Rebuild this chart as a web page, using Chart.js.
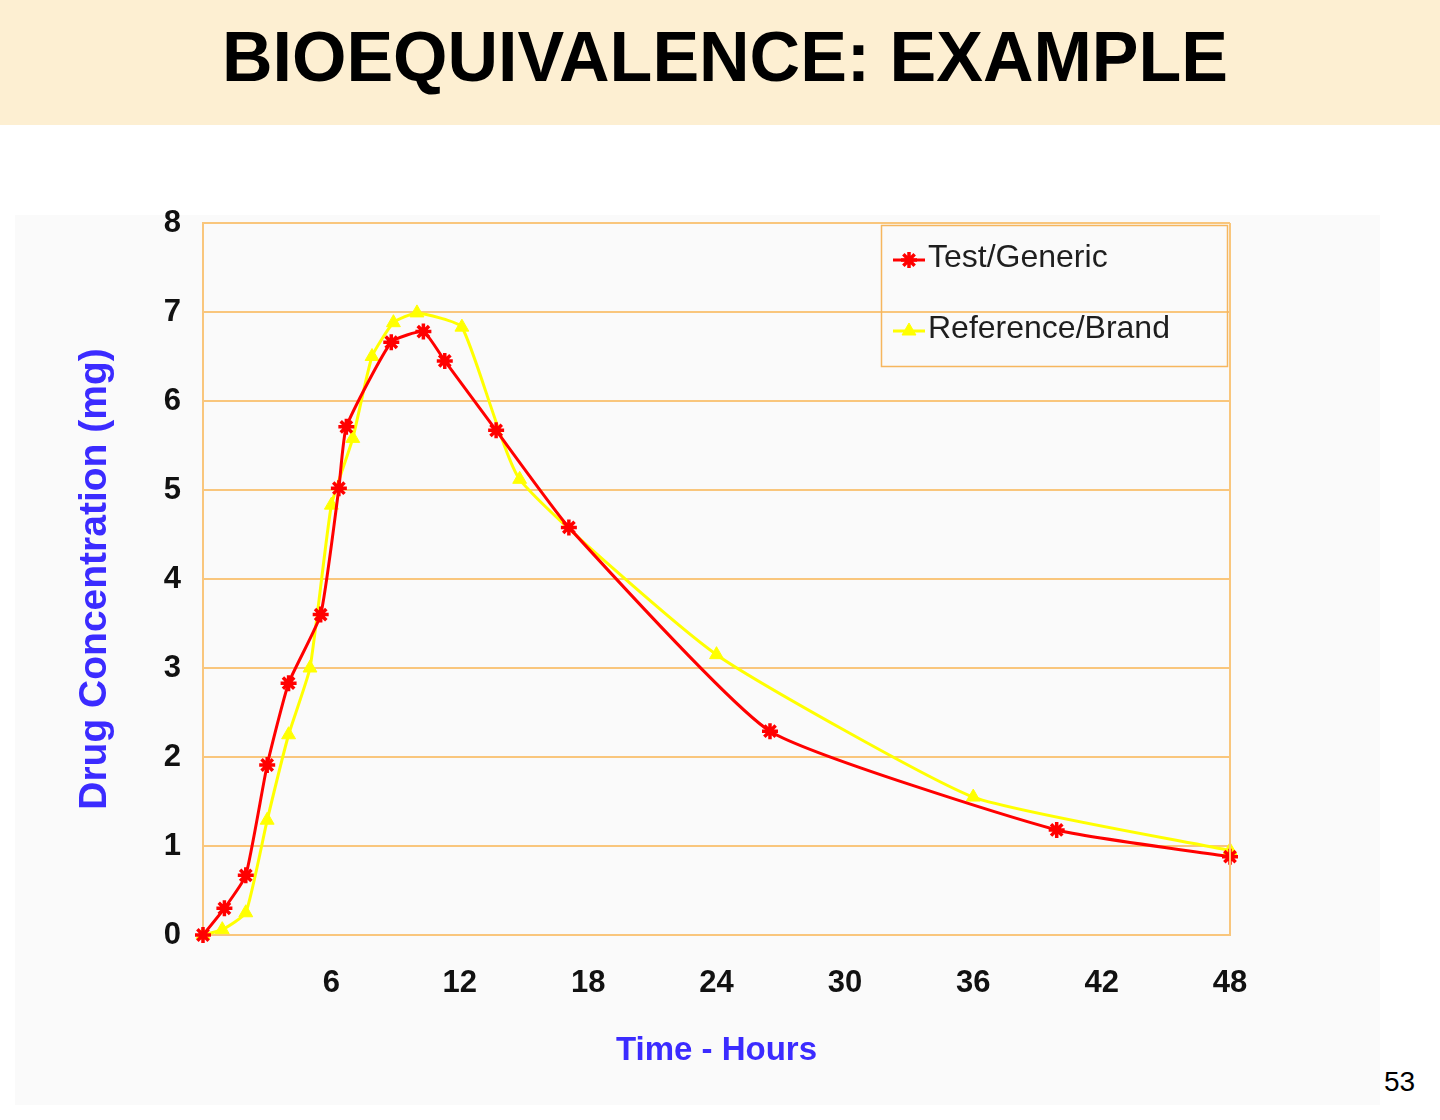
<!DOCTYPE html>
<html>
<head>
<meta charset="utf-8">
<script src="https://cdn.jsdelivr.net/npm/chart.js@4.4.1/dist/chart.umd.min.js"></script>
<style>
  html, body { margin: 0; padding: 0; background: #ffffff; }
  body { width: 1440px; height: 1120px; position: relative; overflow: hidden; font-family: "Liberation Sans", Arial, sans-serif; }
  #header { position: absolute; left: 0; top: 0; width: 1440px; height: 125px; background: #fdefd2; }
  #title { position: absolute; left: 0; width: 1440px; top: 17px; text-align: center; font-weight: bold; font-size: 70px; color: #000; letter-spacing: 0; padding-left: 10px; box-sizing: border-box; }
  #chartBg { position: absolute; left: 15px; top: 215px; width: 1365px; height: 890px; background: #fafafa; }
  #chartBox { position: absolute; left: 15px; top: 195px; width: 1365px; height: 910px; }
  #pageNum { position: absolute; left: 1384px; top: 1066px; font-size: 28px; color: #000; }
</style>
</head>
<body>
<div id="header"><div id="title">BIOEQUIVALENCE: EXAMPLE</div></div>
<div id="chartBg"></div>
<div id="chartBox"><canvas id="c" width="1365" height="910"></canvas></div>
<div id="pageNum">53</div>
<script>
// ---- data ----
const seriesNames = ["Test/Generic", "Reference/Brand"];
const testHours = [0, 1, 2, 3, 4, 5.5, 6.35, 6.7, 8.8, 10.3, 11.3, 13.7, 17.1, 26.5, 39.9, 48];
const testConc  = [0, 0.30, 0.67, 1.91, 2.83, 3.60, 5.02, 5.71, 6.66, 6.78, 6.45, 5.67, 4.58, 2.29, 1.18, 0.88];
const refHours  = [0, 0.9, 2, 3, 4, 5, 6, 7, 7.9, 8.9, 10, 12.1, 14.8, 24, 36, 48];
const refConc   = [0, 0.06, 0.25, 1.29, 2.25, 3.00, 4.83, 5.58, 6.50, 6.88, 6.99, 6.83, 5.12, 3.15, 1.55, 0.95];
const xTicks = [6, 12, 18, 24, 30, 36, 42, 48];
const yTicks = [0, 1, 2, 3, 4, 5, 6, 7, 8];

const FONT = '"Liberation Sans", Arial, sans-serif';
const GRID = '#f9c67c';

function pts(xs, ys) { return xs.map((x, i) => ({ x: x, y: ys[i] })); }

const insideLegend = {
  id: 'insideLegend',
  afterDatasetsDraw(chart) {
    const ctx = chart.ctx;
    const ca = chart.chartArea;
    const w = 346, h = 141;
    const left = ca.right - 349, top = ca.top + 2;
    ctx.save();
    ctx.strokeStyle = '#f6b65e';
    ctx.lineWidth = 1.5;
    ctx.strokeRect(left + 0.5, top + 0.5, w, h);
    chart.data.datasets.forEach((ds, i) => {
      const cy = top + 35 + i * 71;
      const lx = left + 12;
      ctx.strokeStyle = ds.borderColor;
      ctx.lineWidth = 3;
      ctx.beginPath();
      ctx.moveTo(lx, cy);
      ctx.lineTo(lx + 32, cy);
      ctx.stroke();
      ctx.fillStyle = ds.pointBackgroundColor;
      ctx.strokeStyle = ds.pointBorderColor;
      ctx.lineWidth = ds.pointBorderWidth;
      Chart.helpers.drawPoint(ctx, {
        pointStyle: ds.pointStyle, radius: ds.pointRadius, borderWidth: ds.pointBorderWidth, rotation: 0
      }, lx + 16, cy);
      ctx.fillStyle = '#1e1e1e';
      ctx.font = '32px ' + FONT;
      ctx.textBaseline = 'middle';
      ctx.textAlign = 'left';
      ctx.fillText(ds.label, lx + 35, cy - 2);
    });
    ctx.restore();
  }
};

new Chart(document.getElementById('c'), {
  type: 'line',
  data: {
    datasets: [
      {
        label: seriesNames[0],
        data: pts(testHours, testConc),
        borderColor: '#ff0000',
        backgroundColor: '#ff0000',
        borderWidth: 3,
        pointStyle: 'star',
        pointRadius: 8,
        pointBorderWidth: 3.5,
        pointBackgroundColor: '#ff0000',
        pointBorderColor: '#ff0000',
        tension: 0.15,
        fill: false
      },
      {
        label: seriesNames[1],
        data: pts(refHours, refConc),
        borderColor: '#ffff00',
        backgroundColor: '#ffff00',
        borderWidth: 3,
        pointStyle: 'triangle',
        pointRadius: 8,
        pointBorderWidth: 1,
        pointBackgroundColor: '#ffff00',
        pointBorderColor: '#ffff00',
        tension: 0.15,
        fill: false
      }
    ]
  },
  options: {
    responsive: false,
    animation: false,
    clip: false,
    layout: { padding: { left: 0, top: 28, right: 150, bottom: 0 } },
    plugins: { legend: { display: false }, tooltip: { enabled: false } },
    scales: {
      x: {
        type: 'linear',
        min: 0, max: 48,
        afterBuildTicks(scale) { scale.ticks = xTicks.map(v => ({ value: v })); },
        afterFit(scale) { scale.height = 170; scale.paddingLeft = 0; scale.paddingRight = 0; },
        grid: { display: false, drawTicks: false },
        border: { display: true, color: GRID, width: 2 },
        ticks: { color: '#111', font: { family: FONT, size: 31, weight: 'bold' }, padding: 30, maxRotation: 0, autoSkip: false },
        title: { display: true, text: 'Time - Hours', color: '#3b2bff', font: { family: FONT, size: 33, weight: 'bold' }, padding: { top: 0, bottom: 34 } }
      },
      y: {
        min: 0, max: 8,
        afterBuildTicks(scale) { scale.ticks = yTicks.map(v => ({ value: v })); },
        afterFit(scale) { scale.width = 188; scale.paddingTop = 0; scale.paddingBottom = 0; },
        grid: { color: GRID, lineWidth: 2, drawTicks: false },
        border: { display: true, color: GRID, width: 2 },
        ticks: { color: '#111', font: { family: FONT, size: 31, weight: 'bold' }, padding: 22, autoSkip: false },
        title: { display: true, text: 'Drug Concentration (mg)', color: '#3b2bff', font: { family: FONT, size: 39, weight: 'bold' }, padding: { top: 57, bottom: 0 } }
      }
    }
  },
  plugins: [insideLegend, {
    id: 'frame',
    afterDraw(chart) {
      const { ctx, chartArea: ca } = chart;
      ctx.save();
      ctx.strokeStyle = GRID;
      ctx.lineWidth = 2;
      ctx.beginPath();
      ctx.moveTo(ca.right, ca.top);
      ctx.lineTo(ca.right, ca.bottom);
      ctx.stroke();
      ctx.restore();
    }
  }]
});
</script>
</body>
</html>
